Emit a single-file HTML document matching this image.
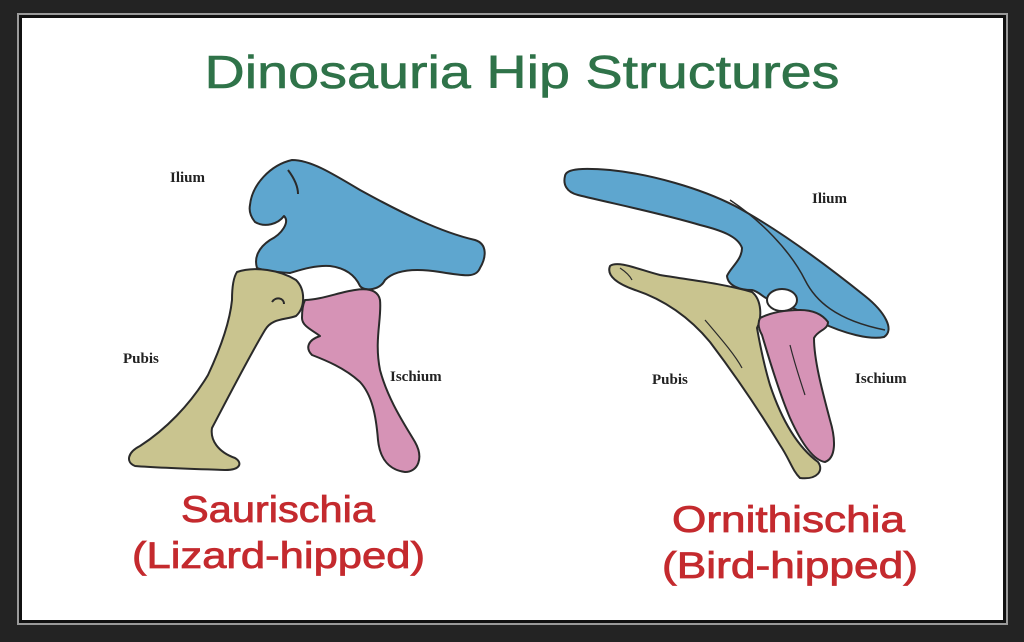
<!DOCTYPE html>
<html><head><meta charset="utf-8"><style>
html,body{margin:0;padding:0;background:#232323;}
svg{display:block;}
</style></head><body>
<svg width="1024" height="642" viewBox="0 0 1024 642" xmlns="http://www.w3.org/2000/svg">
<rect x="0" y="0" width="1024" height="642" fill="#232323"/>
<rect x="17" y="13" width="991" height="612" fill="#9a9a9a"/>
<rect x="19" y="15" width="987" height="608" fill="#111"/>
<rect x="22" y="18" width="981" height="602" fill="#ffffff"/>

<text x="522" y="88" text-anchor="middle" font-family="Liberation Sans, sans-serif" font-size="46" fill="#2f7349" stroke="#2f7349" stroke-width="0.6" textLength="635" lengthAdjust="spacingAndGlyphs">Dinosauria Hip Structures</text>

<g stroke="#2a2a2a" stroke-width="2" stroke-linejoin="round">
<path fill="#5ea6cf" d="M250,205 C252,185 270,165 292,160 C310,160 330,172 360,190 C400,212 440,232 475,240 C488,244 486,258 480,268 C476,278 465,276 440,272 C415,268 395,270 385,280 C380,290 365,292 360,286 C355,275 345,268 330,266 C315,265 300,270 290,273 C275,272 262,270 257,268 C254,258 258,248 270,240 C282,234 290,222 284,216 C278,224 265,228 255,222 C250,216 249,210 250,205Z"/>
<path fill="none" d="M288,170 C294,178 298,186 298,194"/>
<path fill="#c9c48f" d="M237,272 C255,266 280,270 296,280 C306,290 305,308 296,316 C285,320 272,318 265,330 C250,355 232,390 212,428 C210,440 218,452 235,458 C242,462 242,470 225,470 C195,469 160,468 135,466 C125,462 128,452 140,446 C165,430 190,405 208,375 C222,345 230,320 232,300 C232,288 233,278 237,272Z"/>
<path fill="none" d="M272,302 C276,296 284,298 284,304"/>
<path fill="#d693b6" d="M305,300 C320,300 340,292 355,290 C368,288 378,290 380,300 C382,318 374,340 380,370 C388,400 405,425 415,442 C424,458 418,472 405,472 C390,470 380,460 378,440 C376,415 372,395 360,382 C345,368 325,360 312,355 C305,348 308,340 320,336 C312,330 302,326 302,318 C302,310 303,304 305,300Z"/>

<path fill="#5ea6cf" d="M565,176 C566,168 585,168 610,170 C650,174 700,188 735,206 C780,230 830,268 865,296 C885,312 895,330 884,337 C870,340 845,334 820,322 C800,310 780,302 770,300 C762,297 760,292 752,290 C740,290 728,286 727,276 C730,268 742,260 742,248 C738,236 720,230 700,225 C660,213 610,203 578,195 C566,192 563,184 565,176Z"/>
<path fill="none" stroke-width="1.5" d="M730,200 C760,220 790,250 805,280 C815,300 835,320 885,330"/>
<ellipse cx="782" cy="300" rx="15" ry="11" fill="#fff"/>
<path fill="#c9c48f" d="M610,266 C618,260 640,270 660,275 C690,280 720,283 752,292 C762,300 762,318 757,328 C760,345 764,365 770,385 C780,415 795,445 818,462 C824,470 818,480 800,478 C792,470 790,460 780,445 C760,412 735,375 710,342 C690,318 665,300 635,290 C618,284 606,276 610,266Z"/>
<path fill="none" stroke-width="1.2" d="M620,268 C626,272 630,276 632,280 M705,320 C722,340 735,355 742,368"/>
<path fill="#d693b6" d="M760,318 C772,312 785,310 800,310 C812,310 822,314 828,322 C828,330 818,330 814,338 C814,360 822,390 830,420 C836,440 836,458 825,462 C812,460 800,440 790,418 C778,390 768,355 762,335 C758,328 758,322 760,318Z"/>
<path fill="none" stroke-width="1.2" d="M790,345 C795,365 800,380 805,395"/>
</g>

<g font-family="Liberation Serif, serif" font-weight="bold" font-size="15" fill="#222">
<text x="170" y="182">Ilium</text>
<text x="123" y="363">Pubis</text>
<text x="390" y="381">Ischium</text>
<text x="812" y="203">Ilium</text>
<text x="652" y="384">Pubis</text>
<text x="855" y="383">Ischium</text>
</g>

<g font-family="Liberation Sans, sans-serif" font-size="37" fill="#c42a2e" stroke="#c42a2e" stroke-width="0.8">
<text x="181" y="522" textLength="194" lengthAdjust="spacingAndGlyphs">Saurischia</text>
<text x="132" y="568" textLength="293" lengthAdjust="spacingAndGlyphs">(Lizard-hipped)</text>
<text x="672" y="532" textLength="233" lengthAdjust="spacingAndGlyphs">Ornithischia</text>
<text x="662" y="578" textLength="256" lengthAdjust="spacingAndGlyphs">(Bird-hipped)</text>
</g>
</svg>
</body></html>
